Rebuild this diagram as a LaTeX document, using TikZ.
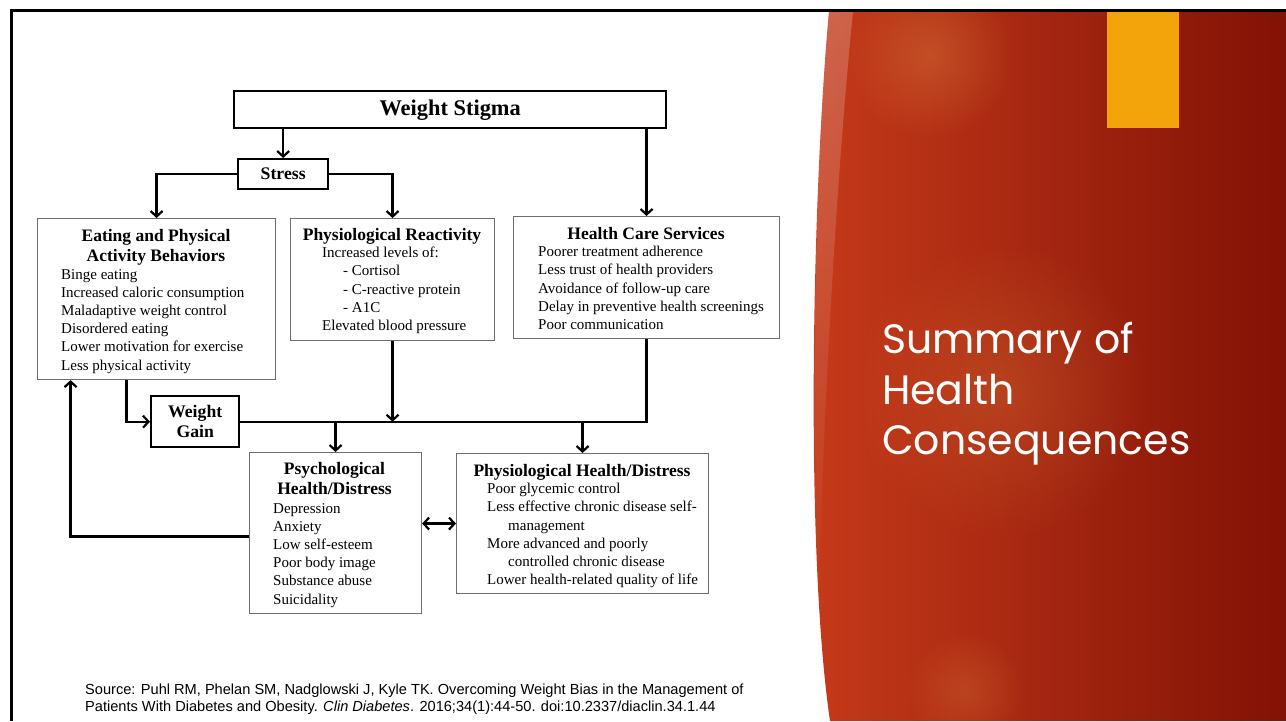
\documentclass[tikz,border=0pt]{standalone}
\usepackage{fontspec}
\setmainfont{Liberation Serif}
\newfontfamily\srcfont{Liberation Sans}
\newfontfamily\titlefont{Poppins}
\usepackage{xcolor}
\definecolor{slideleft}{RGB}{198,58,26}
\definecolor{slideright}{RGB}{130,18,5}
\definecolor{slideglow}{RGB}{210,110,55}
\definecolor{accent}{RGB}{244,164,11}
\definecolor{boxgray}{RGB}{110,110,110}
\usepackage{tikz}
\usetikzlibrary{arrows.meta, positioning, fadings}
\tikzfading[name=glowfade, inner color=transparent!0, outer color=transparent!100]

\begin{document}
\begin{tikzpicture}[
    x=1pt, y=-1pt,
    thickbox/.style ={rectangle, draw=black, line width=2.4pt, inner sep=0pt,
                      anchor=north west, align=center},
    thinbox/.style  ={rectangle, draw=boxgray, line width=1.1pt, inner sep=0pt,
                      anchor=north west},
    boxhead/.style  ={font=\fontsize{17.5}{20}\selectfont\bfseries, align=center,
                      inner sep=0pt},
    boxlist/.style  ={font=\fontsize{15}{18.2}\selectfont, align=left,
                      inner sep=0pt, anchor=north west},
    arrow/.style    ={-{Straight Barb[length=5.5pt, width=12pt]}, line width=2.2pt},
    twoway/.style   ={{Straight Barb[length=5.5pt, width=12pt]}-{Straight Barb[length=5.5pt, width=12pt]},
                      line width=2.2pt},
    link/.style     ={line width=2.2pt}
]
\useasboundingbox (0,0) rectangle (1286,721);
\fill[white] (0,0) rectangle (1286,721);

%% --- slide background ---
\shade[left color=slideleft, right color=slideright]
    (829,11) .. controls (812,200) and (805,550) .. (830,721)
    -- (1286,721) -- (1286,11) -- cycle;
\begin{scope}
  \clip (829,11) .. controls (812,200) and (805,550) .. (830,721)
      -- (1286,721) -- (1286,11) -- cycle;
  \fill[white, opacity=0.22, path fading=south]
      (829,11) -- (853,11) .. controls (834,200) and (822,450) .. (818,620)
      .. controls (812,450) and (812,200) .. (829,11) -- cycle;
  \fill[slideglow, opacity=0.5, path fading=glowfade] (930,55) circle (85);
  \fill[slideglow, opacity=0.35, path fading=glowfade] (1000,390) circle (150);
  \fill[slideglow, opacity=0.35, path fading=glowfade] (965,690) circle (60);
\end{scope}
\fill[accent] (1107,11) rectangle (1179,128);
\draw[line width=3pt] (11,721) -- (11,10) -- (1286,10);

\node[font=\titlefont\fontsize{41}{50.5}\selectfont, text=white, align=left,
      anchor=north west, inner sep=0pt] (title) at (882,322)
      {Summary of\\Health\\Consequences};

%% --- boxes ---
\node[thickbox, minimum width=432, minimum height=37,
      font=\fontsize{22.4}{24}\selectfont\bfseries] (stigma) at (233,90) {Weight Stigma};
\node[thickbox, minimum width=90, minimum height=30,
      font=\fontsize{17.7}{20}\selectfont\bfseries] (stress) at (237,158) {Stress};
\node[thinbox, minimum width=238, minimum height=161] (eat)   at (37,218)  {};
\node[thinbox, minimum width=204, minimum height=122] (react) at (290,218) {};
\node[thinbox, minimum width=266, minimum height=122] (care)  at (513,216) {};
\node[thickbox, minimum width=88, minimum height=51,
      font=\fontsize{17.7}{20}\selectfont\bfseries] (gain) at (150,395) {Weight\\Gain};
\node[thinbox, minimum width=172, minimum height=161] (psych) at (249,452) {};
\node[thinbox, minimum width=252, minimum height=140] (phys)  at (456,453) {};

%% --- box texts ---
\node[boxhead, anchor=north] (eathead) at (156,229) {Eating and Physical\\Activity Behaviors};
\node[boxlist] (eatlist) at (61,269) {Binge eating\\Increased caloric consumption\\
    Maladaptive weight control\\Disordered eating\\Lower motivation for exercise\\
    Less physical activity};
\node[boxhead] (reacthead) at (392,236) {Physiological Reactivity};
\node[boxlist] (reactlist) at (322,247) {Increased levels of:\\\hspace*{21pt}- Cortisol\\
    \hspace*{21pt}- C-reactive protein\\\hspace*{21pt}- A1C\\Elevated blood pressure};
\node[boxhead] (carehead) at (646,234) {Health Care Services};
\node[boxlist] (carelist) at (538,246) {Poorer treatment adherence\\
    Less trust of health providers\\Avoidance of follow-up care\\
    Delay in preventive health screenings\\Poor communication};
\node[boxhead, anchor=north] (psychhead) at (334.5,462) {Psychological\\Health/Distress};
\node[boxlist] (psychlist) at (273,503) {Depression\\Anxiety\\Low self-esteem\\
    Poor body image\\Substance abuse\\Suicidality};
\node[boxhead] (physhead) at (582,472) {Physiological Health/Distress};
\node[boxlist] (physlist) at (487,483) {Poor glycemic control\\
    Less effective chronic disease self-\\\hspace*{21pt}management\\
    More advanced and poorly\\\hspace*{21pt}controlled chronic disease\\
    Lower health-related quality of life};

%% --- connectors ---
\draw[arrow] (stress.north |- stigma.south) -- (stress.north);
\draw[arrow] (stress.west) -| (eat.north);
\draw[arrow] (stress.east) -| (react.north);
\draw[arrow] (care.north |- stigma.south) -- (care.north);
\draw[arrow] ([xshift=-30pt]eat.south) |- (gain.west);
\draw[link] (gain.east) -| (care.south);
\draw[arrow] (react.south) -- (react.south |- gain.east);
\draw[arrow] (psych.north |- gain.east) -- (psych.north);
\draw[arrow] (phys.north |- gain.east) -- (phys.north);
\draw[twoway] (psych.east |- phys.west) -- (phys.west);
\draw[arrow] ([yshift=-3.5pt]psych.west) -| ([xshift=-86pt]eat.south);

%% --- source ---
\node[font=\srcfont\fontsize{14.6}{17}\selectfont, align=left, anchor=north west,
      inner sep=0pt] (source) at (85,684)
      {Source: Puhl RM, Phelan SM, Nadglowski J, Kyle TK. Overcoming Weight Bias in the Management of\\
       Patients With Diabetes and Obesity. \textit{Clin Diabetes}. 2016;34(1):44-50. doi:10.2337/diaclin.34.1.44};
\end{tikzpicture}
\end{document}
